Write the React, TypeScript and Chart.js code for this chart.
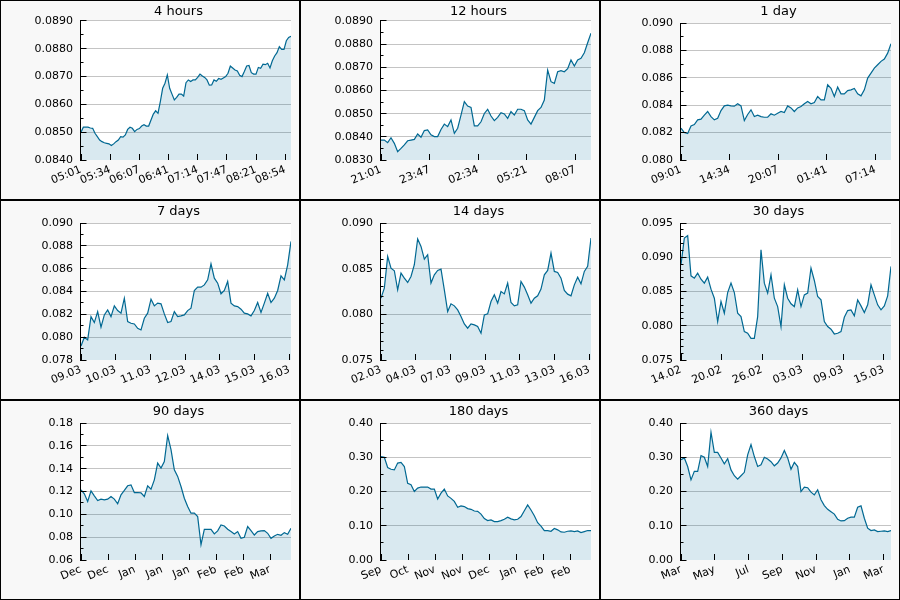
import React, { useEffect, useRef } from "react";
import { Chart, registerables } from "chart.js";
Chart.register(...registerables);
Chart.defaults.font.family = '"DejaVu Sans", sans-serif';

const LINE_COLOR = "#006892";
const FILL_COLOR = "rgba(0,105,154,0.15)";
const GRID_COLOR = "#c4c4c4";

// ---- series values (evenly spaced in time over each panel's span) ----
const values4h = [0.0850,0.08518,0.08518,0.08518,0.08515,0.08514,0.08496,0.08484,0.08472,0.08466,
0.08462,0.0846,0.08458,0.08452,0.08458,0.08466,0.08472,0.08484,0.08482,0.0849,
0.0851,0.08518,0.08514,0.08502,0.0851,0.08513,0.08522,0.08527,0.08522,0.08522,
0.08544,0.08565,0.08577,0.08568,0.0861,0.08658,0.08676,0.08706,0.08658,0.08637,
0.08616,0.08625,0.08637,0.08637,0.0863,0.08678,0.08688,0.08682,0.08688,0.08688,
0.08697,0.08709,0.08702,0.08697,0.08688,0.08669,0.0867,0.08688,0.08683,0.08693,
0.0869,0.08695,0.087,0.08712,0.08738,0.08731,0.08724,0.0872,0.08705,0.087,
0.08718,0.08738,0.0874,0.08714,0.08709,0.08709,0.08733,0.0873,0.08745,0.08743,
0.08748,0.08731,0.08757,0.08774,0.08786,0.08808,0.08798,0.08798,0.08829,0.08841,0.08845];

const values12h = [0.08386,0.08386,0.08375,0.08396,0.08372,0.08336,0.0835,0.08365,0.08383,0.08386,
0.08389,0.08412,0.08398,0.08427,0.0843,0.08409,0.08401,0.08401,0.08432,0.08455,
0.08444,0.08473,0.08415,0.08437,0.08494,0.08552,0.08533,0.08527,0.08447,0.08447,
0.08465,0.08501,0.08519,0.0849,0.0847,0.08484,0.08504,0.08499,0.0848,0.08509,
0.08494,0.08519,0.08519,0.08513,0.08473,0.08455,0.08484,0.08513,0.08527,0.08559,
0.08688,0.08638,0.08631,0.08681,0.08686,0.08681,0.08694,0.08732,0.08706,0.08732,
0.08739,0.08763,0.08806,0.08847];

const values1d = [0.08232,0.082,0.08193,0.08249,0.08259,0.08293,0.08298,0.08327,0.08354,0.08317,
0.08293,0.08305,0.08361,0.08395,0.084,0.08395,0.08393,0.0841,0.08395,0.08288,
0.08332,0.08366,0.08317,0.08327,0.08317,0.08312,0.08312,0.08337,0.08327,0.08341,
0.08354,0.08346,0.08395,0.0838,0.08354,0.0838,0.0839,0.0841,0.08427,0.0841,
0.0842,0.08463,0.08439,0.08439,0.08549,0.08524,0.08463,0.08532,0.08483,0.08483,
0.08507,0.08512,0.08522,0.08483,0.08468,0.08512,0.08598,0.08634,0.08671,0.08695,
0.0872,0.08737,0.0878,0.08849];

const values7d = [0.07923,0.07999,0.07976,0.0818,0.08128,0.08224,0.08087,0.08195,0.08239,0.0818,
0.08274,0.08233,0.0821,0.08341,0.08137,0.08122,0.08116,0.08078,0.08063,0.08166,
0.0821,0.08333,0.08274,0.08298,0.08292,0.08204,0.08128,0.08137,0.08224,0.0818,
0.08186,0.08195,0.08233,0.08254,0.08409,0.08438,0.08438,0.08458,0.08502,0.08643,
0.08517,0.08473,0.0838,0.08409,0.08488,0.08298,0.08274,0.08268,0.08245,0.0821,
0.08204,0.08186,0.08233,0.08303,0.08216,0.08298,0.08385,0.08303,0.08341,0.08409,
0.08537,0.08502,0.08634,0.08839];

const values14d = [0.08177,0.08287,0.08634,0.08506,0.08477,0.08268,0.08451,0.08396,0.08349,0.08415,
0.08543,0.08825,0.08744,0.08605,0.08653,0.08342,0.08433,0.08481,0.08495,0.08268,
0.08031,0.08115,0.08093,0.08049,0.07976,0.07895,0.07848,0.07895,0.07884,0.07866,
0.07793,0.07994,0.08005,0.0814,0.08214,0.08122,0.0825,0.08224,0.08342,0.08129,
0.08093,0.08104,0.0836,0.08298,0.08214,0.08122,0.08177,0.08203,0.08276,0.08433,
0.08481,0.08671,0.0847,0.08459,0.08396,0.08261,0.08221,0.08203,0.08323,0.08407,
0.08334,0.0847,0.08525,0.08836];

const values30d = [0.0889,0.0928,0.09315,0.08729,0.08695,0.08768,0.0868,0.08622,0.0871,0.08534,
0.08402,0.08061,0.08354,0.08183,0.08485,0.08622,0.08485,0.08183,0.08134,0.07915,
0.0789,0.07817,0.07817,0.08134,0.0911,0.08622,0.08476,0.08744,0.08402,0.0828,
0.07988,0.08598,0.08402,0.0832,0.0828,0.08524,0.0828,0.08451,0.08476,0.08841,
0.08661,0.08427,0.08378,0.08061,0.07988,0.07949,0.0788,0.0789,0.07915,0.08124,
0.08222,0.08232,0.08144,0.08378,0.0829,0.08193,0.08305,0.08598,0.08451,0.08305,
0.08232,0.0829,0.08437,0.08866];

const values90d = [0.1215,0.118,0.1112,0.1206,0.1162,0.1121,0.1133,0.1127,0.1133,0.1156,
0.1133,0.1092,0.1171,0.1209,0.125,0.1258,0.1191,0.1191,0.1188,0.1156,
0.125,0.122,0.1302,0.1449,0.1405,0.1463,0.1689,0.1566,0.139,0.1332,
0.1244,0.1141,0.1068,0.101,0.101,0.098,0.0735,0.0869,0.0869,0.0869,
0.0828,0.0855,0.0907,0.0898,0.0869,0.0849,0.0828,0.0849,0.079,0.0799,
0.0893,0.0858,0.0819,0.0849,0.0855,0.0858,0.0834,0.079,0.0811,0.0825,
0.0817,0.084,0.0825,0.0878];

const values180d = [0.302,0.300,0.270,0.265,0.263,0.283,0.285,0.273,0.224,0.220,
0.200,0.210,0.213,0.213,0.213,0.207,0.207,0.178,0.195,0.207,
0.187,0.180,0.171,0.154,0.158,0.156,0.150,0.148,0.143,0.142,
0.134,0.121,0.115,0.117,0.112,0.112,0.115,0.119,0.125,0.120,
0.117,0.119,0.127,0.144,0.161,0.146,0.129,0.109,0.099,0.086,
0.086,0.084,0.092,0.088,0.082,0.081,0.084,0.085,0.083,0.085,
0.080,0.083,0.086,0.086];

const values360d = [0.293,0.298,0.273,0.234,0.259,0.259,0.305,0.300,0.273,0.373,
0.314,0.314,0.298,0.281,0.296,0.263,0.246,0.236,0.246,0.256,
0.307,0.337,0.302,0.273,0.278,0.300,0.295,0.287,0.275,0.283,
0.298,0.320,0.298,0.265,0.285,0.273,0.200,0.213,0.211,0.198,
0.190,0.205,0.176,0.159,0.148,0.141,0.134,0.119,0.114,0.115,
0.122,0.125,0.125,0.154,0.158,0.122,0.093,0.086,0.088,0.083,
0.084,0.085,0.083,0.086];

// ---- x tick labels ----
const xLabels4h = ["05:01","05:34","06:07","06:41","07:14","07:47","08:21","08:54"];
const xLabels12h = ["21:01","23:47","02:34","05:21","08:07"];
const xLabels1d = ["09:01","14:34","20:07","01:41","07:14"];
const xLabels7d = ["09.03","10.03","11.03","12.03","14.03","15.03","16.03"];
const xLabels14d = ["02.03","04.03","07.03","09.03","11.03","13.03","16.03"];
const xLabels30d = ["14.02","20.02","26.02","03.03","09.03","15.03"];
const xLabels90d = ["Dec","Dec","Jan","Jan","Jan","Feb","Feb","Mar"];
const xLabels180d = ["Sep","Oct","Nov","Nov","Dec","Jan","Feb","Feb"];
const xLabels360d = ["Mar","May","Jul","Sep","Nov","Jan","Mar"];

const titles = ["4 hours","12 hours","1 day","7 days","14 days","30 days","90 days","180 days","360 days"];
// span of each panel in hours, x-tick step in seconds
const spanHours = [4, 12, 24, 168, 336, 720, 2160, 4320, 8640];
const tickStepSec = [2000, 10000, 20000, 100000, 200000, 500000, 1000000, 2000000, 5000000];
// y axis ranges
const yMins = [0.0840, 0.0830, 0.080, 0.078, 0.075, 0.075, 0.06, 0.0, 0.0];
const yMaxs = [0.0890, 0.0890, 0.090, 0.090, 0.090, 0.095, 0.18, 0.40, 0.40];
const yMinorSteps = [0.0005, 0.0005, 0.001, 0.001, 0.001, 0.001, 0.01, 0.05, 0.05];
const yMinorPerMajor = [2, 2, 2, 2, 5, 5, 2, 2, 2];
const yDecimals = [4, 4, 3, 3, 3, 3, 2, 2, 2];

const allValues = [values4h, values12h, values1d, values7d, values14d, values30d, values90d, values180d, values360d];
const allXLabels = [xLabels4h, xLabels12h, xLabels1d, xLabels7d, xLabels14d, xLabels30d, xLabels90d, xLabels180d, xLabels360d];

// layout (not data)
const PLOT_TOP = [20, 20, 22, 22, 22, 22, 22, 22, 22];
const CANVAS_W = 298;
const CANVAS_H = 198;

function PanelChart({ idx }: { idx: number }) {
  const ref = useRef<HTMLCanvasElement | null>(null);
  useEffect(() => {
    const vals = allValues[idx];
    const labels = allXLabels[idx];
    const span = spanHours[idx];
    const n = vals.length;
    const data = vals.map((v, i) => ({ x: (i * span) / (n - 1), y: v }));
    const stepH = tickStepSec[idx] / 3600;
    const xTickVals = labels.map((_, i) => i * stepH);
    const yMin = yMins[idx];
    const yMax = yMaxs[idx];
    const minor = yMinorSteps[idx];
    const ratio = yMinorPerMajor[idx];
    const count = Math.round((yMax - yMin) / minor);
    const yTickVals: number[] = [];
    for (let i = 0; i <= count; i++) yTickVals.push(yMin + i * minor);

    const decorPlugin = {
      id: "decor" + idx,
      beforeDraw(chart: any) {
        const { ctx, chartArea } = chart;
        ctx.save();
        ctx.fillStyle = "#ffffff";
        ctx.fillRect(chartArea.left, chartArea.top, chartArea.right - chartArea.left, chartArea.bottom - chartArea.top);
        ctx.restore();
      },
      afterDatasetsDraw(chart: any) {
        const { ctx, chartArea } = chart;
        const ys = chart.scales.y;
        const xs = chart.scales.x;
        ctx.save();
        ctx.strokeStyle = "#000";
        ctx.lineWidth = 1;
        ctx.beginPath();
        const ax = Math.round(chartArea.left) - 0.5;
        ctx.moveTo(ax, Math.round(chartArea.top));
        ctx.lineTo(ax, Math.round(chartArea.bottom));
        ys.ticks.forEach((t: any, i: number) => {
          const py = Math.round(ys.getPixelForValue(t.value) - 0.5) + 0.5;
          const len = i % ratio === 0 ? 6 : 3;
          ctx.moveTo(ax - 0.5, py);
          ctx.lineTo(ax + len, py);
        });
        xs.ticks.forEach((t: any) => {
          const px = Math.round(xs.getPixelForValue(t.value) - 0.5) + 0.5;
          ctx.moveTo(px, Math.round(chartArea.bottom));
          ctx.lineTo(px, Math.round(chartArea.bottom) - 6);
        });
        ctx.stroke();
        ctx.restore();
      },
      afterDraw(chart: any) {
        const { ctx } = chart;
        ctx.save();
        ctx.font = '13px "DejaVu Sans", sans-serif';
        ctx.fillStyle = "#000";
        ctx.textAlign = "center";
        ctx.textBaseline = "alphabetic";
        ctx.fillText(titles[idx], 177.5, 14);
        ctx.restore();
      },
    };

    const chart = new Chart(ref.current as HTMLCanvasElement, {
      type: "line",
      data: {
        datasets: [
          {
            data,
            borderColor: LINE_COLOR,
            borderWidth: 1.2,
            backgroundColor: FILL_COLOR,
            fill: "start",
            pointRadius: 0,
            tension: 0,
          },
        ],
      },
      options: {
        responsive: false,
        animation: false,
        events: [],
        layout: { padding: { top: PLOT_TOP[idx], right: 8, left: 0, bottom: 0 } },
        plugins: {
          legend: { display: false },
          tooltip: { enabled: false },
          title: { display: false },
        },
        scales: {
          x: {
            type: "linear",
            min: 0,
            max: span,
            afterBuildTicks: (s: any) => {
              s.ticks = xTickVals.map((v) => ({ value: v }));
            },
            afterFit: (s: any) => {
              s.height = CANVAS_H - 159;
            },
            grid: { display: false, drawTicks: false },
            border: { display: false },
            ticks: {
              autoSkip: false,
              maxRotation: 22,
              minRotation: 22,
              padding: 3,
              color: "#000",
              font: { size: 11 },
              callback: (_v: any, i: number) => labels[i],
            },
          },
          y: {
            type: "linear",
            min: yMin,
            max: yMax,
            afterBuildTicks: (s: any) => {
              s.ticks = yTickVals.map((v) => ({ value: v }));
            },
            afterFit: (s: any) => {
              s.width = 80;
            },
            grid: {
              drawTicks: false,
              color: (c: any) => (c.index % ratio === 0 && c.index !== 0 ? GRID_COLOR : "rgba(0,0,0,0)"),
            },
            border: { display: false },
            ticks: {
              autoSkip: false,
              padding: 8,
              color: "#000",
              font: { size: 11 },
              callback: (v: any, i: number) => (i % ratio === 0 ? Number(v).toFixed(yDecimals[idx]) : ""),
            },
          },
        },
      },
      plugins: [decorPlugin],
    });
    return () => chart.destroy();
  }, [idx]);

  return (
    <div
      style={{
        boxSizing: "border-box",
        width: 300,
        height: 200,
        border: "1px solid #000",
        background: "#f8f8f8",
      }}
    >
      <canvas ref={ref} width={CANVAS_W} height={CANVAS_H} style={{ display: "block", width: CANVAS_W, height: CANVAS_H }} />
    </div>
  );
}

export default function App() {
  return (
    <div
      style={{
        position: "absolute",
        left: 0,
        top: 0,
        width: 900,
        height: 600,
        display: "grid",
        gridTemplateColumns: "repeat(3, 300px)",
        gridTemplateRows: "repeat(3, 200px)",
      }}
    >
      {titles.map((_, i) => (
        <PanelChart key={i} idx={i} />
      ))}
    </div>
  );
}
